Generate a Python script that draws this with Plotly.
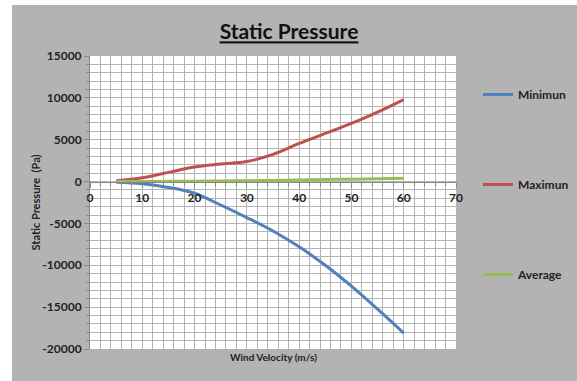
import plotly.graph_objects as go

velocity = [5, 10, 15, 20, 25, 30, 35, 40, 45, 50, 55, 60]
minimum = [-80, -250, -700, -1400, -2800, -4300, -5900, -7800, -10000, -12500, -15250, -18100]
maximum = [100, 450, 1100, 1750, 2100, 2400, 3250, 4550, 5750, 6950, 8300, 9800]
average = [0, 15, 30, 50, 70, 100, 140, 190, 240, 290, 340, 400]

y_tickvals = [15000, 10000, 5000, 0, -5000, -10000, -15000, -20000]
y_ticktext = ["15000", "10000", "5000", "0", "-5000", "-10000", "-15000", "-20000"]

series = [("Minimun", minimum, "#4F81BD"),
          ("Maximun", maximum, "#C0504D"),
          ("Average", average, "#9BBB59")]

FONT = "Lato"
fig = go.Figure()
for i, (name, vals, col) in enumerate(series):
    fig.add_trace(go.Scatter(x=velocity, y=vals, name=name, mode="lines",
                             line=dict(color=col, width=3, shape="spline", smoothing=1.0),
                             legendgroup=str(i)))

grid = "#b4b4b4"
tickfont = dict(size=12, family=FONT, weight="bold", color="#222222")
fig.update_layout(
    width=577, height=381,
    margin=dict(l=90, r=121, t=56, b=32, autoexpand=False),
    paper_bgcolor="white", plot_bgcolor="white",
    font=dict(family=FONT, color="#222222"),
    showlegend=True,
    title=dict(text='<span style="text-decoration:underline">Static Pressure</span>',
               font=dict(size=21, family=FONT, color="#111111", weight="bold"),
               x=289/577, xref="container", xanchor="center", y=1 - 32/381, yanchor="middle"),
    legend=dict(x=(478-90)/366, y=(349-80)/293,
                xanchor="left", yanchor="top",
                bgcolor="rgba(0,0,0,0)", tracegroupgap=71, itemwidth=30,
                font=dict(size=12, family=FONT, weight="bold", color="#222222"),
                traceorder="grouped"),
    xaxis=dict(range=[0, 70], dtick=10, tick0=0, anchor="free", position=20000/35000,
               showgrid=True, gridcolor=grid, gridwidth=1, tickformat="d",
               minor=dict(dtick=2, showgrid=True, gridcolor=grid, ticks="outside", ticklen=3, tickcolor="#888"),
               ticks="outside", ticklen=5, tickcolor="#888",
               showline=True, linecolor="#888888", linewidth=1, zeroline=False,
               tickfont=tickfont),
    yaxis=dict(range=[-20000, 15000], tickvals=y_tickvals, ticktext=y_ticktext, domain=[0, 1],
               showgrid=True, gridcolor=grid, gridwidth=1,
               minor=dict(dtick=1000, tick0=0, showgrid=True, gridcolor=grid, ticks="outside", ticklen=3, tickcolor="#888"),
               ticks="outside", ticklen=5, tickcolor="#888",
               showline=True, linecolor="#888888", linewidth=1, zeroline=False,
               tickfont=tickfont),
    shapes=[dict(type="rect", xref="paper", yref="paper",
                 x0=(12-90)/366, x1=(577-90)/366, y0=(349-381)/293, y1=(349-5)/293,
                 fillcolor="#B3B3B3", line=dict(width=0), layer="below"),
            dict(type="rect", xref="paper", yref="paper", x0=0, x1=1, y0=0, y1=1,
                 fillcolor="white", line=dict(width=0), layer="below")],
    annotations=[
        dict(text="Wind Velocity (m/s)", xref="paper", yref="paper", x=0.5, y=(349-357)/293,
             xanchor="center", yanchor="middle", showarrow=False,
             font=dict(size=10, family=FONT, weight="bold", color="#222222")),
        dict(text="Static Pressure  (Pa)", xref="paper", yref="paper", x=(35-90)/366, y=0.5,
             xanchor="center", yanchor="middle", showarrow=False, textangle=-90,
             font=dict(size=11, family=FONT, weight="bold", color="#222222")),
    ],
)
fig.write_html("out.html", config={"displayModeBar": False},
               post_script="document.body.style.margin='0';")
